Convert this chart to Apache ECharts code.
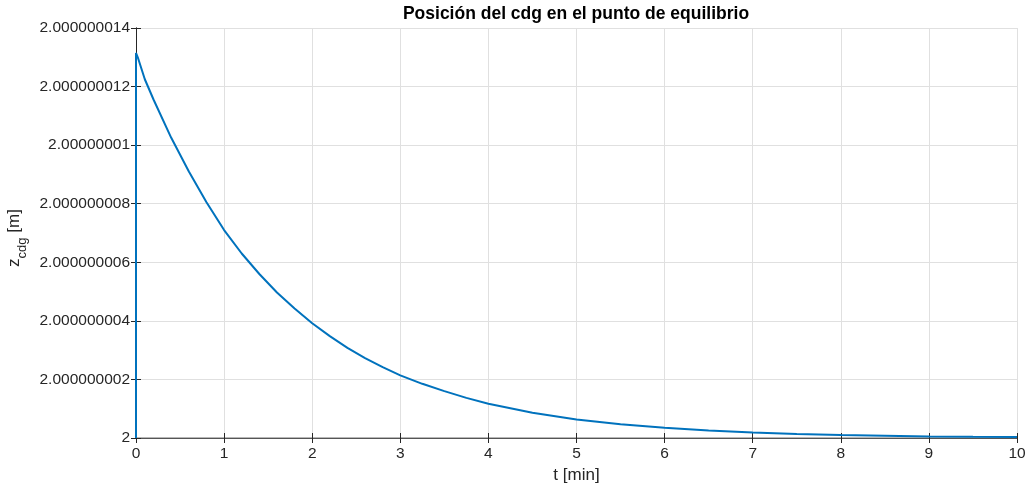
<!DOCTYPE html>
<html>
<head>
<meta charset="utf-8">
<script src="https://cdn.jsdelivr.net/npm/echarts@6/dist/echarts.min.js"></script>
<style>
  html, body { margin: 0; padding: 0; background: #ffffff; }
  #chart { width: 1028px; height: 488px; }
</style>
</head>
<body>
<div id="chart"></div>
<script>
// Time in minutes
const tMin = [0, 0, 0.02, 0.1, 0.2, 0.4, 0.6, 0.8, 1.0, 1.2, 1.4, 1.6, 1.8, 2.0, 2.2, 2.4, 2.6, 2.8, 3.0,
  3.25, 3.5, 3.75, 4.0, 4.5, 5, 5.5, 6, 6.5, 7, 7.5, 8, 8.5, 9, 9.5, 10];
// Height of the centre of gravity above 2 m, in units of 1e-9 m
const zOffsetNano = [0, 13.15, 13.0, 12.25, 11.55, 10.25, 9.1, 8.05, 7.1, 6.3, 5.6, 4.97, 4.42, 3.92, 3.48, 3.08, 2.73, 2.42, 2.14,
  1.85, 1.6, 1.37, 1.17, 0.86, 0.63, 0.47, 0.35, 0.26, 0.19, 0.14, 0.10, 0.075, 0.055, 0.04, 0.03];
const zBase = 2;
const xTicks = [0, 1, 2, 3, 4, 5, 6, 7, 8, 9, 10];

const FONT = '"Liberation Sans", Arial, Helvetica, sans-serif';
const TXT = '#262626';

// "2" + nanometre offset written as a decimal, trailing zeros dropped
function zLabel(v) {
  if (v === 0) return String(zBase);
  const frac = String(Math.round(v)).padStart(9, '0').replace(/0+$/, '');
  return zBase + '.' + frac;
}

const points = tMin.map((t, i) => [t, zOffsetNano[i]]);

const gridLine = { show: true, lineStyle: { color: '#e0e0e0', width: 1 } };
const tick = { show: true, inside: true, length: 5, lineStyle: { color: TXT } };

const chart = echarts.init(document.getElementById('chart'));
chart.setOption({
  animation: false,
  backgroundColor: '#ffffff',
  title: {
    text: 'Posición del cdg en el punto de equilibrio',
    left: 576, top: 5, padding: 0, textAlign: 'center',
    textStyle: { fontFamily: FONT, fontSize: 17.5, fontWeight: 'bold', color: '#000000' }
  },
  grid: { left: 136, right: 11, top: 28, bottom: 50, containLabel: false, outerBoundsMode: 'none' },
  xAxis: [{
    type: 'value', min: 0, max: 10, interval: 1,
    name: 't [min]', nameLocation: 'middle', nameGap: 28,
    nameTextStyle: { fontFamily: FONT, fontSize: 17, color: TXT },
    axisLine: { show: true, lineStyle: { color: '#a0a0a0', width: 1.5 } },
    axisTick: tick,
    axisLabel: { fontFamily: FONT, fontSize: 15.5, color: TXT, margin: 8,
      customValues: xTicks, formatter: v => String(v) },
    splitLine: gridLine
  }, {
    type: 'value', min: 0, max: 10, interval: 1, position: 'top',
    axisLine: { show: true, lineStyle: { color: '#555555', width: 1 } },
    axisTick: tick,
    axisLabel: { show: false }, splitLine: { show: false }
  }],
  yAxis: [{
    type: 'value', min: 0, max: 14, interval: 2,
    name: '{z|z}{s|cdg}{u| [m]}', nameLocation: 'middle', nameGap: 103, nameRotate: 90,
    nameTextStyle: {
      fontFamily: FONT, color: TXT,
      rich: {
        z: { fontFamily: FONT, fontSize: 17, color: TXT, verticalAlign: 'top' },
        s: { fontFamily: FONT, fontSize: 13, color: TXT, padding: [10, 0, 0, 0], verticalAlign: 'top' },
        u: { fontFamily: FONT, fontSize: 17, color: TXT, verticalAlign: 'top', padding: [0, 10, 0, 0] }
      }
    },
    axisLine: { show: true, lineStyle: { color: TXT, width: 1 } },
    axisTick: tick,
    axisLabel: { fontFamily: FONT, fontSize: 15.5, color: TXT, margin: 6,
      formatter: zLabel },
    splitLine: gridLine
  }, {
    type: 'value', min: 0, max: 14, interval: 2, position: 'right',
    axisLine: { show: true, lineStyle: { color: TXT, width: 1 } },
    axisTick: tick,
    axisLabel: { show: false }, splitLine: { show: false }
  }],
  series: [{
    type: 'line',
    data: points,
    xAxisIndex: 0, yAxisIndex: 0,
    showSymbol: false,
    lineStyle: { color: '#0072BD', width: 2 },
    clip: true
  }]
});
</script>
</body>
</html>
